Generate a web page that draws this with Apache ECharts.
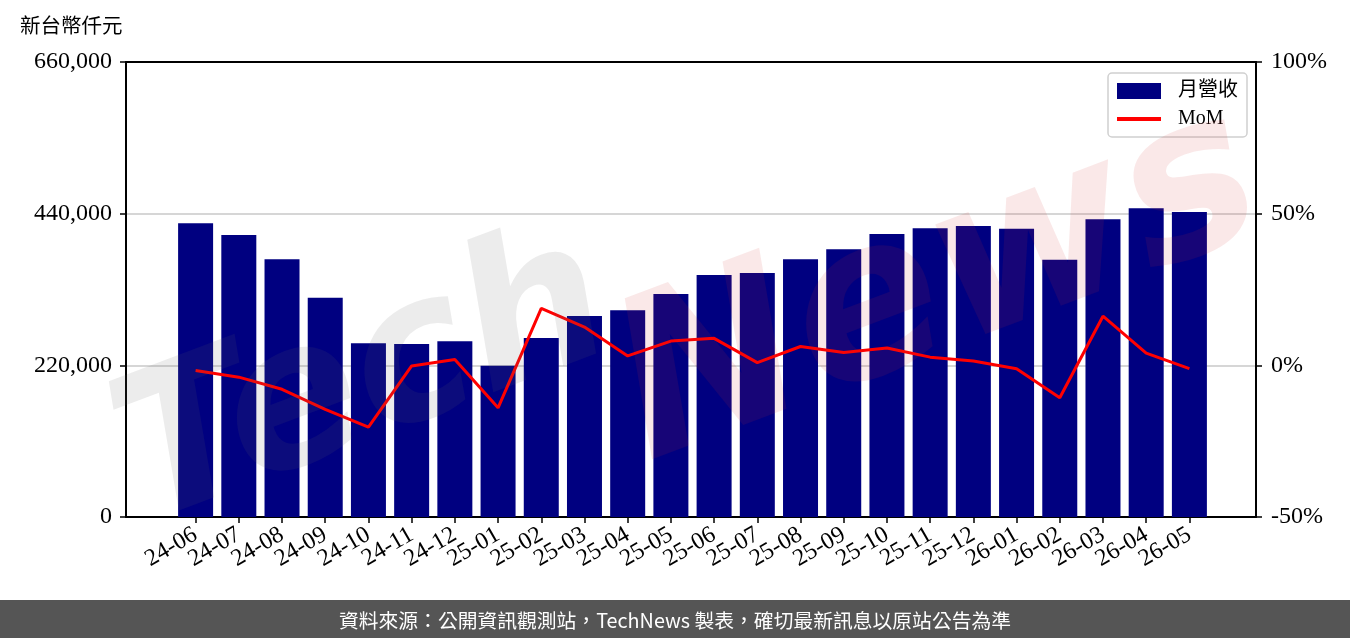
<!DOCTYPE html>
<html lang="zh-TW">

<head>
    <meta charset="UTF-8">
    <title>月營收</title>
    <script src="https://cdn.jsdelivr.net/npm/echarts@6.0.0/dist/echarts.min.js"></script>
    <style>
        html, body { margin: 0; padding: 0; background: #fff; }
        #chart { width: 1350px; height: 638px; }
    </style>
</head>

<body>
    <div id="chart"></div>
    <script>
        // 月份
        const months = ['24-06', '24-07', '24-08', '24-09', '24-10', '24-11', '24-12',
            '25-01', '25-02', '25-03', '25-04', '25-05', '25-06', '25-07', '25-08', '25-09',
            '25-10', '25-11', '25-12', '26-01', '26-02', '26-03', '26-04', '26-05'];
        // 月營收 (新台幣仟元)
        const revenue = [426000, 409000, 374000, 318000, 252000, 251000, 255000,
            219500, 259500, 291500, 300000, 323500, 351000, 354000, 374000, 388500,
            410500, 419000, 422000, 418000, 373000, 432000, 448000, 442500];
        // MoM (%)
        const mom = [-1.7, -3.9, -7.9, -14.5, -20.4, -0.2, 1.9, -14.0, 18.8, 12.6,
            3.1, 8.0, 8.9, 0.9, 6.2, 4.2, 5.7, 2.7, 1.4, -1.1, -10.7, 16.2, 4.0, -1.1];
        // 刻度
        const leftTicks = [0, 220000, 440000, 660000];
        const rightTicks = [-50, 0, 50, 100];

        const serif = "'Liberation Serif', 'DejaVu Serif', serif";
        const cjk = "'Noto Sans CJK TC', 'Noto Sans CJK SC', sans-serif";
        const frameLine = { color: '#000', width: 2 };
        const tickLine = { color: '#000', width: 1.5 };

        const chart = echarts.init(document.getElementById('chart'));
        chart.setOption({
            animation: false,
            grid: [
                // 外框 + y 軸
                { left: 126, right: 94, top: 62, bottom: 121 },
                // 柱狀/折線 (類別間距與外框留白)
                { left: 174, right: 139, top: 62, bottom: 121 }
            ],
            legend: {
                orient: 'vertical',
                right: 103, top: 73,
                padding: [8, 9, 8, 7],
                itemGap: 8,
                itemWidth: 44, itemHeight: 16,
                borderColor: '#d0d0d0', borderWidth: 1.5, borderRadius: 4,
                backgroundColor: 'rgba(255,255,255,0.85)',
                textStyle: { fontSize: 20, fontFamily: serif + ', ' + cjk, color: '#000', padding: [0, 0, 0, 12] },
                data: [
                    { name: '月營收', icon: 'rect' },
                    { name: 'MoM', itemStyle: { color: 'transparent', borderWidth: 0 }, lineStyle: { width: 4, color: '#ff0000' } }
                ]
            },
            xAxis: [{
                gridIndex: 0, type: 'value', min: 0, max: 1,
                splitLine: { show: false },
                axisLine: { onZero: false, lineStyle: frameLine },
                axisTick: { show: false }, axisLabel: { show: false }
            }, {
                gridIndex: 0, type: 'value', position: 'top', min: 0, max: 1,
                splitLine: { show: false },
                axisLine: { show: true, onZero: false, lineStyle: frameLine },
                axisTick: { show: false }, axisLabel: { show: false }
            }, {
                gridIndex: 1, type: 'category', data: months,
                axisLine: { show: false },
                axisTick: { show: true, alignWithLabel: true, interval: 0, length: 6, lineStyle: tickLine },
                axisLabel: {
                    interval: 0, rotate: 30, margin: 16,
                    fontSize: 24, fontFamily: serif, color: '#000'
                }
            }],
            yAxis: [{
                gridIndex: 0, type: 'value',
                min: leftTicks[0], max: leftTicks[3], interval: 220000,
                axisLine: { show: true, onZero: false, lineStyle: frameLine },
                axisTick: { show: true, length: 6, lineStyle: tickLine },
                axisLabel: {
                    margin: 14, fontSize: 24, fontFamily: serif, color: '#000',
                    formatter: v => v.toLocaleString('en-US')
                },
                splitLine: { lineStyle: { color: '#d6d6d6', width: 2 } }
            }, {
                gridIndex: 0, type: 'value',
                min: rightTicks[0], max: rightTicks[3], interval: 50,
                axisLine: { show: true, onZero: false, lineStyle: frameLine },
                axisTick: { show: true, length: 6, lineStyle: tickLine },
                axisLabel: {
                    margin: 15, fontSize: 24, fontFamily: serif, color: '#000',
                    formatter: v => v + '%'
                },
                splitLine: { show: false }
            }, {
                gridIndex: 1, type: 'value', show: false,
                min: leftTicks[0], max: leftTicks[3]
            }, {
                gridIndex: 1, type: 'value', show: false, position: 'right',
                min: rightTicks[0], max: rightTicks[3]
            }],
            series: [{
                name: '月營收',
                type: 'bar',
                xAxisIndex: 2, yAxisIndex: 2,
                barWidth: 35,
                itemStyle: { color: '#000080' },
                data: revenue
            }, {
                name: 'MoM',
                type: 'line',
                xAxisIndex: 2, yAxisIndex: 3,
                symbol: 'none',
                lineStyle: { color: '#ff0000', width: 3 },
                itemStyle: { color: '#ff0000' },
                data: mom,
                z: 3
            }],
            graphic: [
                // 浮水印
                {
                    type: 'text', x: 365, y: 385, rotation: 0.36, z: 50, silent: true,
                    style: {
                        text: 'Tech', fontSize: 200, fontStyle: 'italic', fontWeight: 'bold',
                        fontFamily: "'DejaVu Sans', sans-serif",
                        fill: 'rgba(100,100,100,0.12)', align: 'center', verticalAlign: 'middle'
                    }
                },
                {
                    type: 'text', x: 940, y: 290, rotation: 0.36, z: 50, silent: true,
                    style: {
                        text: 'News', fontSize: 220, fontStyle: 'italic', fontWeight: 'bold',
                        fontFamily: "'DejaVu Sans', sans-serif",
                        fill: 'rgba(205,50,50,0.11)', align: 'center', verticalAlign: 'middle'
                    }
                },
                {
                    type: 'text', left: 20, top: 15,
                    style: { text: '新台幣仟元', fontSize: 20.5, fontFamily: cjk, fill: '#000' }
                },
                {
                    type: 'rect', left: 0, top: 600, z: 10,
                    shape: { width: 1350, height: 38 },
                    style: { fill: '#555555' }
                },
                {
                    type: 'text', x: 675, y: 620, z: 11,
                    style: {
                        text: '資料來源：公開資訊觀測站，TechNews 製表，確切最新訊息以原站公告為準',
                        fontSize: 19.8, fontFamily: cjk, fill: '#fff',
                        align: 'center', verticalAlign: 'middle'
                    }
                }
            ]
        });
    </script>
</body>

</html>
